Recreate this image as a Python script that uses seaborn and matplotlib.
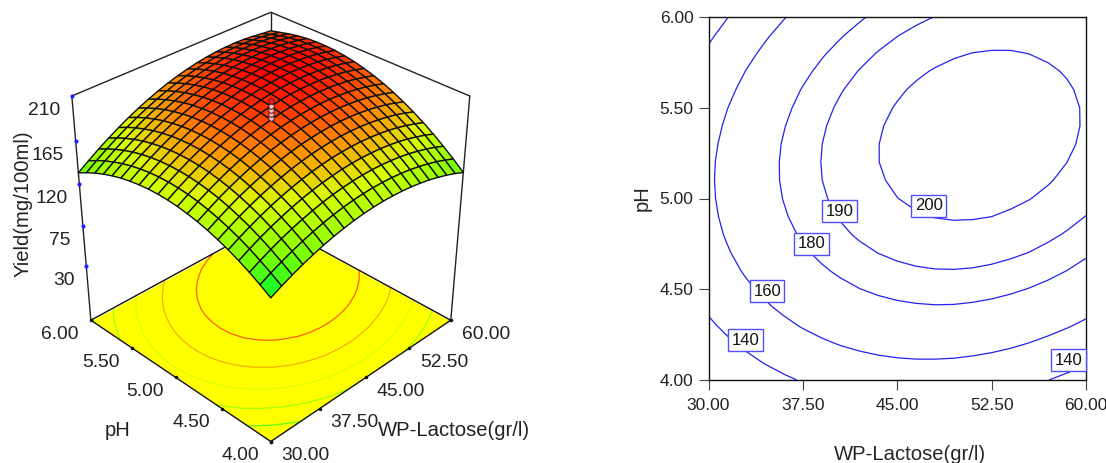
import numpy as np
import seaborn as sns
import matplotlib.pyplot as plt
from mpl_toolkits.mplot3d import proj3d

W, H = 1106, 463

lactose_ticks = [30.0, 37.5, 45.0, 52.5, 60.0]
ph_ticks = [4.0, 4.5, 5.0, 5.5, 6.0]
yield_ticks = [30, 75, 120, 165, 210]
contour_levels = [140, 160, 180, 190, 200]
floor_levels = [134, 148.5, 163, 177.5, 192]

lactose = [30.0, 31.5, 33.0, 34.5, 36.0, 37.5, 39.0, 40.5, 42.0, 43.5, 45.0,
           46.5, 48.0, 49.5, 51.0, 52.5, 54.0, 55.5, 57.0, 58.5, 60.0]
ph = [4.0, 4.1, 4.2, 4.3, 4.4, 4.5, 4.6, 4.7, 4.8, 4.9, 5.0,
      5.1, 5.2, 5.3, 5.4, 5.5, 5.6, 5.7, 5.8, 5.9, 6.0]

# yield, one row per pH, one column per lactose value
yield_grid = [
    [119.3,124.7,129.5,133.9,137.7,141.1,144.0,146.4,148.3,149.7,150.6,151.0,150.9,150.3,149.3,147.7,145.7,143.1,140.1,136.6,132.5],
    [126.0,131.5,136.4,140.9,144.9,148.4,151.4,153.9,155.9,157.4,158.4,158.9,158.9,158.5,157.5,156.1,154.1,151.7,148.8,145.4,141.5],
    [132.1,137.6,142.7,147.3,151.4,155.0,158.1,160.7,162.8,164.4,165.5,166.2,166.3,166.0,165.1,163.8,162.0,159.6,156.8,153.5,149.7],
    [137.5,143.2,148.4,153.1,157.2,161.0,164.2,166.9,169.1,170.8,172.1,172.8,173.1,172.8,172.1,170.9,169.2,167.0,164.2,161.1,157.4],
    [142.3,148.1,153.4,158.2,162.5,166.3,169.6,172.4,174.8,176.6,178.0,178.8,179.2,179.1,178.4,177.3,175.7,173.6,171.0,167.9,164.4],
    [146.4,152.3,157.7,162.6,167.1,171.0,174.4,177.4,179.8,181.8,183.2,184.2,184.7,184.6,184.1,183.1,181.6,179.6,177.2,174.2,170.7],
    [149.9,155.9,161.5,166.5,171.0,175.0,178.6,181.6,184.2,186.3,187.8,188.9,189.5,189.6,189.2,188.3,186.9,185.0,182.7,179.8,176.4],
    [152.8,158.9,164.6,169.7,174.3,178.5,182.1,185.3,187.9,190.1,191.8,193.0,193.7,193.9,193.6,192.8,191.5,189.8,187.5,184.8,181.5],
    [155.0,161.3,167.0,172.2,177.0,181.3,185.0,188.3,191.1,193.3,195.1,196.4,197.2,197.6,197.4,196.7,195.5,193.9,191.7,189.1,186.0],
    [156.6,163.0,168.8,174.2,179.0,183.4,187.3,190.7,193.5,195.9,197.8,199.3,200.2,200.6,200.5,200.0,198.9,197.4,195.3,192.8,189.8],
    [157.6,164.0,170.0,175.5,180.4,184.9,188.9,192.4,195.4,197.9,199.9,201.4,202.4,203.0,203.0,202.6,201.6,200.2,198.3,195.8,192.9],
    [157.9,164.5,170.5,176.1,181.2,185.8,189.9,193.5,196.6,199.2,201.3,203.0,204.1,204.7,204.9,204.6,203.7,202.4,200.6,198.3,195.5],
    [157.6,164.3,170.4,176.1,181.3,186.0,190.2,193.9,197.1,199.9,202.1,203.8,205.1,205.9,206.1,205.9,205.2,204.0,202.2,200.0,197.3],
    [156.6,163.4,169.7,175.5,180.8,185.6,189.9,193.7,197.1,199.9,202.3,204.1,205.5,206.3,206.7,206.6,206.0,204.9,203.3,201.2,198.6],
    [155.0,161.9,168.3,174.2,179.6,184.6,189.0,192.9,196.4,199.3,201.8,203.7,205.2,206.2,206.7,206.7,206.2,205.2,203.7,201.7,199.2],
    [152.8,159.8,166.3,172.3,177.8,182.9,187.4,191.5,195.0,198.1,200.6,202.7,204.3,205.4,206.0,206.1,205.7,204.8,203.4,201.6,199.2],
    [149.9,157.0,163.7,169.8,175.4,180.6,185.2,189.4,193.0,196.2,198.9,201.1,202.7,203.9,204.6,204.9,204.6,203.8,202.5,200.8,198.5],
    [146.4,153.6,160.4,166.6,172.3,177.6,182.4,186.6,190.4,193.7,196.5,198.8,200.6,201.9,202.7,203.0,202.8,202.2,201.0,199.4,197.2],
    [142.3,149.6,156.4,162.8,168.6,174.0,178.9,183.2,187.1,190.5,193.4,195.8,197.7,199.2,200.1,200.5,200.5,199.9,198.9,197.3,195.3],
    [137.5,144.9,151.9,158.3,164.3,169.8,174.7,179.2,183.2,186.7,189.7,192.3,194.3,195.8,196.8,197.4,197.4,197.0,196.1,194.6,192.7],
    [132.1,139.6,146.7,153.2,159.3,164.9,170.0,174.6,178.7,182.3,185.4,188.0,190.2,191.8,193.0,193.6,193.8,193.5,192.6,191.3,190.3],
]

center_yield = [188, 192, 196, 200]
center_top = [205]
label_x = [47.5, 40.4, 38.2, 34.66, 32.94, 58.6]
label_y = [4.96, 4.93, 4.75, 4.49, 4.22, 4.11]
label_v = [200, 190, 180, 160, 140, 140]
z_floor = -33

Y = np.array(yield_grid)
LX, LP = np.meshgrid(lactose, ph)

sns.set_theme(style="ticks")
plt.rcParams['font.family'] = ['Liberation Sans', 'DejaVu Sans']
plt.rcParams['text.color'] = '#222222'
cmap = sns.blend_palette(["#00ff30", "#87ff00", "#d9ff00", "#ff8a00", "#ff0000"], as_cmap=True)
norm = plt.Normalize(119, 207)
fig = plt.figure(figsize=(W/100, H/100), dpi=100)

# 3D surface
ax = fig.add_axes([40.51/W, 18.94/H, 448.5/W, 448.5/H], projection='3d', computed_zorder=False)
ax.patch.set_alpha(0)
ax.set_proj_type('persp', focal_length=0.589)
ax.view_init(elev=32.667, azim=-135)
ax.set_box_aspect((1, 1, 0.994))
ax.set_xlim(30, 60)
ax.set_ylim(4, 6)
ax.set_zlim(z_floor, 210)
ax.set_axis_off()

box = dict(color='#222222', lw=1.0, zorder=1)
ax.plot([30, 30], [6, 6], [z_floor, 210], **box)
ax.plot([60, 60], [4, 4], [z_floor, 210], **box)
ax.plot([60, 60], [6, 6], [z_floor, 210], **box)
ax.plot([30, 60, 60], [6, 6, 4], [210, 210, 210], **box)

ax.plot_surface(LX[[0, -1]][:, [0, -1]], LP[[0, -1]][:, [0, -1]], np.full((2, 2), z_floor),
                color='#ffff00', shade=False, zorder=2)
ax.contour(lactose, ph, Y, levels=floor_levels, cmap=cmap, norm=norm, zdir='z',
           offset=z_floor, linewidths=0.9, zorder=3)
ax.plot([30, 60, 60, 30, 30], [4, 4, 6, 6, 4], [z_floor]*5, color='#111111', lw=1.0, zorder=4)
ax.plot_surface(LX, LP, Y, rstride=1, cstride=1, cmap=cmap, norm=norm, shade=False,
                edgecolor='#111111', linewidth=1.0, zorder=5)

# replicate centre points and the small tick dots
ax.plot([45]*4, [5]*4, center_yield, ls='none', marker='o', ms=4, mfc='#f4c0c8', mec='#551111', mew=0.7, zorder=6)
ax.plot([45], [5], center_top, ls='none', marker='o', ms=4, mfc='#ee2222', mec='#551111', mew=0.7, zorder=6)
ax.plot([30]*5, [6]*5, yield_ticks, ls='none', marker='o', ms=2, color='#2222ff', zorder=6)
ax.plot(lactose_ticks, [4]*5, [z_floor]*5, ls='none', marker='o', ms=1.5, color='#111111', zorder=6)
ax.plot([30]*5, ph_ticks, [z_floor]*5, ls='none', marker='o', ms=1.5, color='#111111', zorder=6)

M = ax.get_proj()

def tick_label(x, y, z, text, dx, dy, ha):
    X, Yp, _ = proj3d.proj_transform(x, y, z, M)
    ax.annotate(text, (X, Yp), xytext=(dx, -dy), textcoords='offset pixels', ha=ha, va='center',
                fontsize=13.9, annotation_clip=False)

for t in lactose_ticks:
    tick_label(t, 4, z_floor, f"{t:.2f}", 35, 14, 'center')
for t in ph_ticks:
    tick_label(30, t, z_floor, f"{t:.2f}", -31, 14, 'center')
for t in yield_ticks:
    tick_label(30, 6, t, str(t), -12, 14, 'right')

fig.text(23/W, 1-204/H, "Yield(mg/100ml)", rotation=90, ha='center', va='center', fontsize=14.6)
fig.text(118/W, 1-430/H, "pH", ha='center', va='center', fontsize=14.6)
fig.text(454/W, 1-430/H, "WP-Lactose(gr/l)", ha='center', va='center', fontsize=14.6)

# contour panel
ax2 = fig.add_axes([708.5/W, 1-380/H, 377.5/W, 363/H])
ax2.contour(lactose, ph, Y, levels=contour_levels, colors='#2222ee', linewidths=0.9)
ax2.set_xlim(30, 60)
ax2.set_ylim(4, 6)
ax2.set_xticks(lactose_ticks, [f"{t:.2f}" for t in lactose_ticks])
ax2.set_yticks(ph_ticks, [f"{t:.2f}" for t in ph_ticks])
ax2.tick_params(length=7.2, width=0.8, color='#444444', labelsize=12.5, labelcolor='#222222', pad=3.5)
ax2.tick_params(axis='x', pad=5.5)
for sp in ax2.spines.values():
    sp.set_linewidth(1.0)
    sp.set_color('#111111')
    sp.set_visible(True)
ax2.set_xlabel("WP-Lactose(gr/l)", fontsize=14.6, labelpad=23, x=0.534)
ax2.set_ylabel("pH", fontsize=14.6, labelpad=6)
for x, y, v in zip(label_x, label_y, label_v):
    ax2.text(x, y, str(v), ha='center', va='center', fontsize=12, color='#111111', clip_on=False,
             bbox=dict(boxstyle='square,pad=0.2', fc='white', ec='#5050ff', lw=1.0))

fig.savefig('out.png', dpi=100)
